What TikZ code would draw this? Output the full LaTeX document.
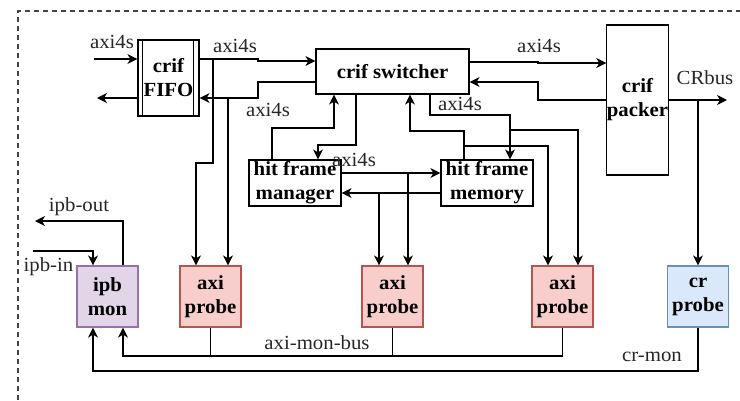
\documentclass[tikz,border=0pt]{standalone}
\usepackage{fontspec}
\setmainfont{Liberation Serif}[FakeStretch=1.04]
\usetikzlibrary{arrows.meta}

\definecolor{monfill}{HTML}{E1D5E7}\definecolor{mondraw}{HTML}{9673A6}
\definecolor{axifill}{HTML}{F8CECC}\definecolor{axidraw}{HTML}{B85450}
\definecolor{crfill}{HTML}{DAE8FC}\definecolor{crdraw}{HTML}{6C8EBF}
\definecolor{framegray}{HTML}{444444}

\begin{document}
\begin{tikzpicture}[x=1pt,y=-1pt,line width=1.2pt,
  box/.style={draw,line width=1.2pt,align=center,inner sep=0pt,
    font=\bfseries\fontsize{20}{24}\selectfont},
  probebox/.style={box,minimum width=61pt,minimum height=61pt},
  axibox/.style={probebox,fill=axifill,draw=axidraw},
  lbl/.style={inner sep=0pt,text=black!85,font=\fontsize{20}{22}\selectfont},
  arr/.style={-{Stealth[length=10pt,width=10pt,inset=3pt]}},
  outline/.style={draw=framegray,line width=1.2pt,dash pattern=on 5pt off 4pt}]
\useasboundingbox (0,0) rectangle (740,400);

% enclosing dashed frame
\draw[outline] (18,400) -- (18,11) -- (740,11);

% blocks
\node[box,minimum width=61pt,minimum height=76pt] (fifo) at (168.5,78) {crif\\FIFO};
\draw ([xshift=5pt]fifo.north west) -- ([xshift=5pt]fifo.south west);
\draw ([xshift=-6pt]fifo.north east) -- ([xshift=-6pt]fifo.south east);
\node[box,minimum width=153pt,minimum height=45pt] (sw) at (392.5,71.5) {crif switcher};
\node[box,minimum width=61pt,minimum height=150pt] (pk) at (637.5,100) {crif\\packer};
\node[box,minimum width=92pt,minimum height=46pt] (mgr) at (295,183) {hit frame\\manager};
\node[box,minimum width=92pt,minimum height=46pt] (mem) at (487,183) {hit frame\\memory};
\node[probebox,fill=monfill,draw=mondraw] (ipb) at (107.5,296.5) {ipb\\mon};
\node[axibox] (p1) at (210.5,296.5) {axi\\probe};
\node[axibox] (p2) at (392.5,296.5) {axi\\probe};
\node[axibox] (p3) at (562.5,296.5) {axi\\probe};
\node[probebox,fill=crfill,draw=crdraw] (crp) at (698,296.5) {cr\\probe};

% crif FIFO ports
\coordinate (fin) at (94,59);
\coordinate (fout) at (97,98);
\draw[arr] (fin) -- (fin -| fifo.west);
\node[lbl] at (112,42) {axi4s};
\draw[arr] (fout -| fifo.west) -- (fout);

% FIFO <-> switcher
\draw[arr] (fifo.east |- fin) -- (258,59) -- (258,61) -- (sw.west |- 0,61);
\node[lbl] at (235,46) {axi4s};
\draw[arr] (sw.west |- 0,82) -- (258,82) -- (258,98) -- (fifo.east |- fout);
\node[lbl] at (268,110) {axi4s};

% taps to the first axi probe
\coordinate (t1) at (213,59);
\coordinate (t2) at (228,98);
\draw[arr] (t1) -- (213,163) -- (196,163) -- (p1.north -| 196,0);
\draw[arr] (t2) -- (p1.north -| t2);

% manager <-> switcher
\draw[arr] (mgr.north -| 272,0) -- (272,128) -- (334,128) -- (sw.south -| 334,0);
\draw[arr] (sw.south -| 356,0) -- (356,145) -- (318,145) -- (mgr.north -| 318,0);
\node[lbl] at (354,160) {axi4s};

% manager <-> memory
\draw[arr] (mgr.east |- 0,173) -- (mem.west |- 0,173);
\draw[arr] (mem.west |- 0,193) -- (mgr.east |- 0,193);
\coordinate (t3) at (408,173);
\coordinate (t4) at (379,193);
\draw[arr] (t3) -- (p2.north -| t3);
\draw[arr] (t4) -- (p2.north -| t4);

% memory <-> switcher
\draw[arr] (mem.north -| 464,0) -- (464,131) -- (410,131) -- (sw.south -| 410,0);
\coordinate (t5) at (464,146);
\draw[arr] (t5) -- (548,146) -- (p3.north -| 548,0);
\draw[arr] (sw.south -| 430,0) -- (430,115) -- (510,115) -- (mem.north -| 510,0);
\node[lbl] at (460,104) {axi4s};
\coordinate (t6) at (510,130);
\draw[arr] (t6) -- (578,130) -- (p3.north -| 578,0);

% switcher <-> packer
\draw[arr] (sw.east |- 0,62) -- (538,62) -- (538,63) -- (pk.west |- 0,63);
\node[lbl] at (539,46) {axi4s};
\draw[arr] (pk.west |- 0,100) -- (538,100) -- (538,82) -- (sw.east |- 0,82);

% CR bus
\coordinate (crout) at (727,100);
\draw[arr] (pk.east |- crout) -- (crout);
\node[lbl] at (705,78) {CRbus};
\coordinate (t7) at (698,100);
\draw[arr] (t7) -- (crp.north);

% ipb ports
\coordinate (ipbo) at (35,221);
\coordinate (ipbi) at (33,251);
\draw[arr] (ipb.north -| 123,0) -- (123,221) -- (ipbo);
\node[lbl] at (79,207) {ipb-out};
\draw[arr] (ipbi) -- (93,251) -- (ipb.north -| 93,0);
\node[lbl] at (48.5,267) {ipb-in};

% monitor buses
\draw (p1.south) -- (p1.south |- 0,356);
\draw (p2.south) -- (p2.south |- 0,356);
\draw[arr] (p3.south) -- (p3.south |- 0,356) -- (123,356) -- (ipb.south -| 123,0);
\node[lbl] at (317,343) {axi-mon-bus};
\draw[arr] (crp.south) -- (crp.south |- 0,371) -- (93,371) -- (ipb.south -| 93,0);
\node[lbl] at (652,357) {cr-mon};
\end{tikzpicture}
\end{document}
